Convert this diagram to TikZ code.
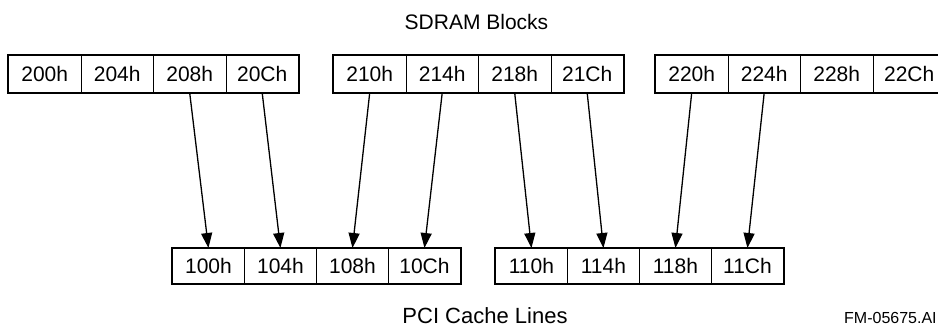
\documentclass[tikz,border=0pt]{standalone}
\usepackage{fontspec}
\setmainfont{Liberation Sans}
\usetikzlibrary{arrows.meta,fit}
\begin{document}
\begin{tikzpicture}[x=1pt,y=-1pt,
  cell/.style={draw,line width=0.9pt,minimum width=72.5pt,minimum height=37pt,inner sep=0pt,
    font=\fontsize{21}{23}\selectfont,anchor=north west},
  bcell/.style={cell,minimum width=72pt,minimum height=35pt},
  grp/.style={draw,line width=2.2pt,inner sep=0pt},
  link/.style={line width=1.3pt,-{Triangle[length=15pt,width=11pt]}},
  lbl/.style={anchor=base,inner sep=0pt},
  tag/.style={font=\fontsize{16}{18}\selectfont,anchor=base west,inner sep=0pt}]
\useasboundingbox (0,0) rectangle (938,326);
\clip (0,0) rectangle (938,326);
% top row
\node[cell] (t1) at (8,55) {200h};
\node[cell] (t2) at (80.5,55) {204h};
\node[cell] (t3) at (153,55) {208h};
\node[cell] (t4) at (225.5,55) {20Ch};
\node[cell] (t5) at (333,55) {210h};
\node[cell] (t6) at (405.5,55) {214h};
\node[cell] (t7) at (478,55) {218h};
\node[cell] (t8) at (550.5,55) {21Ch};
\node[cell] (t9) at (655,55) {220h};
\node[cell] (t10) at (727.5,55) {224h};
\node[cell] (t11) at (800,55) {228h};
\node[cell] (t12) at (872.5,55) {22Ch};
\node[grp,fit=(t1)(t4)] (g1) {};
\node[grp,fit=(t5)(t8)] (g2) {};
\node[grp,fit=(t9)(t12)] (g3) {};
% bottom row
\node[bcell] (b1) at (172,248) {100h};
\node[bcell] (b2) at (244,248) {104h};
\node[bcell] (b3) at (316,248) {108h};
\node[bcell] (b4) at (388,248) {10Ch};
\node[bcell] (b5) at (495,248) {110h};
\node[bcell] (b6) at (567,248) {114h};
\node[bcell] (b7) at (639,248) {118h};
\node[bcell] (b8) at (711,248) {11Ch};
\node[grp,fit=(b1)(b4)] (h1) {};
\node[grp,fit=(b5)(b8)] (h2) {};
% arrows
\draw[link] (t3.south) -- (b1.north);
\draw[link] (t4.south) -- (b2.north);
\draw[link] (t5.south) -- (b3.north);
\draw[link] (t6.south) -- (b4.north);
\draw[link] (t7.south) -- (b5.north);
\draw[link] (t8.south) -- (b6.north);
\draw[link] (t9.south) -- (b7.north);
\draw[link] (t10.south) -- (b8.north);
% labels
\node[lbl,font=\fontsize{21}{23}\selectfont] (top) at (476.5,30) {SDRAM Blocks};
\node[lbl,font=\fontsize{22}{24}\selectfont] (bot) at (485,323) {PCI Cache Lines};
\node[tag] (fm) at (844,323) {FM-05675.AI};
\end{tikzpicture}
\end{document}
